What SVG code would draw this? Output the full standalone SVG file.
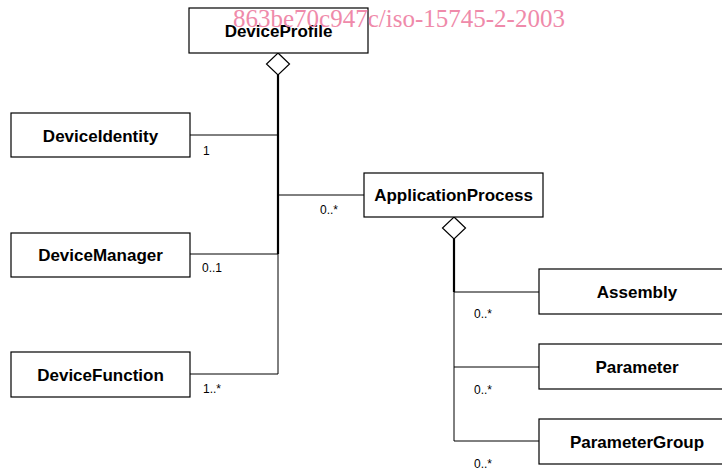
<svg xmlns="http://www.w3.org/2000/svg" width="722" height="470" viewBox="0 0 722 470">
<style>
.box{fill:#fff;stroke:#000;stroke-width:1.2}
.name{font-family:"Liberation Sans",Arial,sans-serif;font-weight:bold;font-size:17px;text-anchor:middle;fill:#000}
.mult{font-family:"Liberation Sans",Arial,sans-serif;font-size:12px;fill:#000}
.thin{stroke:#000;stroke-width:1;fill:none}
.thick{stroke:#000;stroke-width:2.2;fill:none}
.dia{fill:#fff;stroke:#000;stroke-width:1.2}
.wm{font-family:"Liberation Serif","Times New Roman",serif;font-size:25px;fill:#ef8aaa}
</style>
<rect width="722" height="470" fill="#fff"/>
<g id="connectors">
  <line class="thick" x1="278" y1="75" x2="278" y2="254"/>
  <line class="thin" x1="278" y1="254" x2="278" y2="374"/>
  <line class="thin" x1="190" y1="135" x2="278" y2="135"/>
  <line class="thin" x1="190" y1="254" x2="278" y2="254"/>
  <line class="thin" x1="190" y1="374" x2="278" y2="374"/>
  <line class="thin" x1="278" y1="195" x2="364" y2="195"/>
  <polygon class="dia" points="278,53 289.5,64 278,75 266.5,64"/>
  <line class="thick" x1="454" y1="239" x2="454" y2="292"/>
  <line class="thin" x1="454" y1="292" x2="454" y2="441"/>
  <line class="thin" x1="454" y1="292" x2="539" y2="292"/>
  <line class="thin" x1="454" y1="367" x2="539" y2="367"/>
  <line class="thin" x1="454" y1="441" x2="539" y2="441"/>
  <polygon class="dia" points="454,217 465.5,228 454,239 442.5,228"/>
  <text class="mult" x="203" y="155">1</text>
  <text class="mult" x="320" y="214">0..*</text>
  <text class="mult" x="202" y="272">0..1</text>
  <text class="mult" x="203" y="393">1..*</text>
  <text class="mult" x="474" y="318">0..*</text>
  <text class="mult" x="474" y="394">0..*</text>
  <text class="mult" x="474" y="468">0..*</text>
</g>
<g id="DeviceProfile">
  <rect class="box" x="189" y="8" width="179" height="45"/>
  <text class="name" x="278.5" y="37">DeviceProfile</text>
</g>
<g id="DeviceIdentity">
  <rect class="box" x="11" y="113" width="179" height="44"/>
  <text class="name" x="100.5" y="142">DeviceIdentity</text>
</g>
<g id="DeviceManager">
  <rect class="box" x="11" y="233" width="179" height="44"/>
  <text class="name" x="100.5" y="261">DeviceManager</text>
</g>
<g id="DeviceFunction">
  <rect class="box" x="11" y="352" width="179" height="45"/>
  <text class="name" x="100.5" y="381">DeviceFunction</text>
</g>
<g id="ApplicationProcess">
  <rect class="box" x="364" y="173" width="179" height="44"/>
  <text class="name" x="453.5" y="201">ApplicationProcess</text>
</g>
<g id="Assembly">
  <rect class="box" x="539" y="269" width="196" height="45"/>
  <text class="name" x="637" y="298">Assembly</text>
</g>
<g id="Parameter">
  <rect class="box" x="539" y="344" width="196" height="45"/>
  <text class="name" x="637" y="373">Parameter</text>
</g>
<g id="ParameterGroup">
  <rect class="box" x="539" y="419" width="196" height="45"/>
  <text class="name" x="637" y="448">ParameterGroup</text>
</g>
<text class="wm" x="233" y="27">863be70c947c/iso-15745-2-2003</text>
</svg>
